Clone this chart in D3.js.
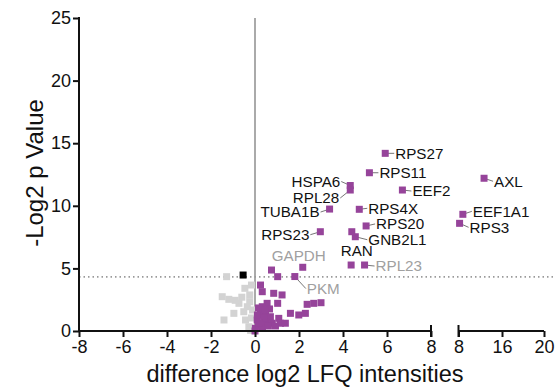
<!DOCTYPE html>
<html><head><meta charset="utf-8">
<script src="https://cdn.jsdelivr.net/npm/d3@7"></script>
<style>body{margin:0;background:#fff}svg{display:block;font-family:"Liberation Sans",Arial,Helvetica,sans-serif}</style>
</head><body><svg id="c" width="555" height="387"></svg>
<script>
// ---- data ----
const yTicks = [0, 5, 10, 15, 20, 25];
const xTicksLeft = [-8, -6, -4, -2, 0, 2, 4, 6, 8];
const xTicksRight = [8, 16, 20];
const threshold = 4.32;

// non-significant (grey)
const greyX = [-1.29, -0.46, -1.49, -1.19, -0.73, -0.24, -0.24, -0.96, -0.51, -1.41, -0.43, -0.28, -0.2, -0.35, -0.16, -0.11, -0.16, -0.6, -0.9];
const greyY = [4.34, 3.41, 2.74, 2.53, 2.21, 2.88, 2.34, 1.41, 1.54, 0.88, 0.88, 0.34, 0.05, 1.94, 3.67, 1.68, 1.04, 2.7, 2.45];

// highlighted black point
const blackX = [-0.54];
const blackY = [4.47];

// unlabelled significant (purple)
const purpleX = [0.75, 1.03, 0.25, 0.33, 0.85, 1.23, 1.03, 0.55, 0.33, 0.25, 0.48, 0.7, 0.1, 0.48, 0.78, 1.08, 1.16, 1.38, 1.61, 1.99, 2.29, 2.37, 2.67, 3.0, 0.02, 0.0, 0.16, 0.34, 0.61, 0.39, 0.16, 0.66, 0.93, 0.11, 0.2, 0.45];
const purpleY = [4.87, 4.34, 3.67, 3.14, 3.01, 2.88, 2.21, 2.21, 1.94, 1.41, 1.41, 1.14, 0.88, 0.74, 0.62, 1.01, 0.62, 0.62, 1.41, 1.28, 1.41, 2.13, 2.21, 2.26, 0.22, 0.0, 0.48, 0.24, 0.4, 1.04, 1.84, 1.76, 0.4, 1.28, 0.6, 1.7];

// labelled proteins
const labelNames = ["RPS27", "RPS11", "EEF2", "RPS4X", "HSPA6", "RPL28", "TUBA1B", "RPS23", "RPS20", "GNB2L1", "RAN", "RPL23", "GAPDH", "PKM", "AXL", "EEF1A1", "RPS3"];
const labelX = [5.92, 5.2, 6.7, 4.74, 4.33, 4.33, 3.39, 2.97, 5.05, 4.56, 4.4, 4.98, 2.17, 1.81, 12.7, 8.8, 8.2];
const labelY = [14.19, 12.64, 11.26, 9.72, 11.62, 11.26, 9.74, 7.93, 8.39, 7.53, 7.93, 5.27, 5.09, 4.35, 12.2, 9.32, 8.6];
const labelSig = [true, true, true, true, true, true, true, true, true, true, true, false, false, false, true, true, true];
const extraX = [4.37];   // unlabelled point beside RPL23
const extraY = [5.27];

// ---- layout (annotation placement, not data) ----
const labelLayout = {
  RPS27: [10, 0, "start", true], RPS11: [10, 0, "start", true], EEF2: [10, 1, "start", true],
  RPS4X: [9, -1, "start", true], HSPA6: [-10, -4, "end", true], RPL28: [-11, 8, "end", true],
  TUBA1B: [-10, 3, "end", true], RPS23: [-11, 3, "end", true], RPS20: [10, -2, "start", true],
  GNB2L1: [13, 3, "start", true], RAN: [5, 19, "middle", false], RPL23: [11, 1, "start", true],
  GAPDH: [-4, -12, "middle", false], PKM: [12, 12, "start", true], AXL: [10, 3, "start", true],
  EEF1A1: [10, -3, "start", true], RPS3: [10, 4, "start", true]
};

const svg = d3.select("#c");
const y = d3.scaleLinear().domain([0, 25]).range([331, 18]);
const xL = d3.scaleLinear().domain([-8, 8]).range([79, 431]);
const xR = d3.scaleLinear().domain([8, 16, 20]).range([458.5, 502, 544]);
const xs = v => v <= 8 ? xL(v) : xR(v);

const purple = "#96449a", grey = "#d3d3d3";
const S = 7;

// reference lines
svg.append("line").attr("x1", xL(0)).attr("x2", xL(0)).attr("y1", y(25)).attr("y2", y(0))
  .attr("stroke", "#aaa").attr("stroke-width", 2);
svg.append("line").attr("x1", xL(-8)).attr("x2", 555).attr("y1", y(threshold)).attr("y2", y(threshold))
  .attr("stroke", "#9a9a9a").attr("stroke-width", 1.6).attr("stroke-dasharray", "1.5,3");

function squares(X, Y, color) {
  svg.append("g").selectAll("rect").data(X.map((d, i) => [d, Y[i]])).join("rect")
    .attr("x", d => xs(d[0]) - S / 2).attr("y", d => y(d[1]) - S / 2)
    .attr("width", S).attr("height", S).attr("fill", color);
}
squares(greyX, greyY, grey);
squares(purpleX, purpleY, purple);
squares(extraX, extraY, purple);
squares(blackX, blackY, "#000");

// labelled points
const lab = labelNames.map((n, i) => ({ n, x: labelX[i], y: labelY[i], sig: labelSig[i] }));
const lg = svg.append("g");
lab.forEach(d => {
  const [dx, dy, anchor, leader] = labelLayout[d.n];
  const px = xs(d.x), py = y(d.y);
  const col = d.sig ? "#111" : "#a0a0a0";
  if (leader) {
    const ex = px + dx + (anchor === "end" ? 1 : -1), ey = py + dy;
    lg.append("line").attr("x1", px).attr("y1", py).attr("x2", ex).attr("y2", ey)
      .attr("stroke", "#666").attr("stroke-width", 0.9);
  }
  lg.append("rect").attr("x", px - S / 2).attr("y", py - S / 2).attr("width", S).attr("height", S).attr("fill", purple);
  lg.append("text").attr("x", px + dx).attr("y", py + dy).attr("dy", "0.35em")
    .attr("text-anchor", anchor).attr("font-size", 15.2).attr("fill", col).text(d.n);
});

// axes
const fmt = d => String(d);
const yAxis = svg.append("g").attr("transform", `translate(${xL(-8)},0)`)
  .call(d3.axisLeft(y).tickValues(yTicks).tickSize(6).tickPadding(2).tickFormat(fmt));
const xAxis1 = svg.append("g").attr("transform", `translate(0,${y(0)})`)
  .call(d3.axisBottom(xL).tickValues(xTicksLeft).tickSize(6).tickPadding(3).tickFormat(fmt));
const xAxis2 = svg.append("g").attr("transform", `translate(0,${y(0)})`)
  .call(d3.axisBottom(xR).tickValues(xTicksRight).tickSize(6).tickPadding(3).tickFormat(fmt));
[yAxis, xAxis1, xAxis2].forEach(a => {
  a.select(".domain").remove();
  a.selectAll(".tick line").attr("stroke", "#111").attr("stroke-width", 2);
  a.selectAll("text").attr("font-size", 18).attr("fill", "#111").attr("font-family", "Liberation Sans, Arial, sans-serif");
});
yAxis.append("line").attr("x1", 0).attr("x2", 0).attr("y1", y(25) - 1).attr("y2", y(0) + 1).attr("stroke", "#111").attr("stroke-width", 2);
xAxis1.append("line").attr("x1", xL(-8)).attr("x2", xL(8)).attr("y1", 0).attr("y2", 0).attr("stroke", "#111").attr("stroke-width", 2);
xAxis1.append("line").attr("x1", xL(8)).attr("x2", xL(8)).attr("y1", -6).attr("y2", 6).attr("stroke", "#111").attr("stroke-width", 2);
xAxis2.append("line").attr("x1", xR(8)).attr("x2", xR(20)).attr("y1", 0).attr("y2", 0).attr("stroke", "#111").attr("stroke-width", 2);
xAxis2.append("line").attr("x1", xR(8)).attr("x2", xR(8)).attr("y1", -6).attr("y2", 6).attr("stroke", "#111").attr("stroke-width", 2);

// titles
svg.append("text").attr("x", 305).attr("y", 382).attr("text-anchor", "middle")
  .attr("font-size", 23.5).attr("fill", "#111").text("difference log2 LFQ intensities");
svg.append("text").attr("transform", "translate(43,173) rotate(-90)").attr("text-anchor", "middle")
  .attr("font-size", 24).attr("fill", "#111").text("-Log2 p Value");
</script></body></html>
